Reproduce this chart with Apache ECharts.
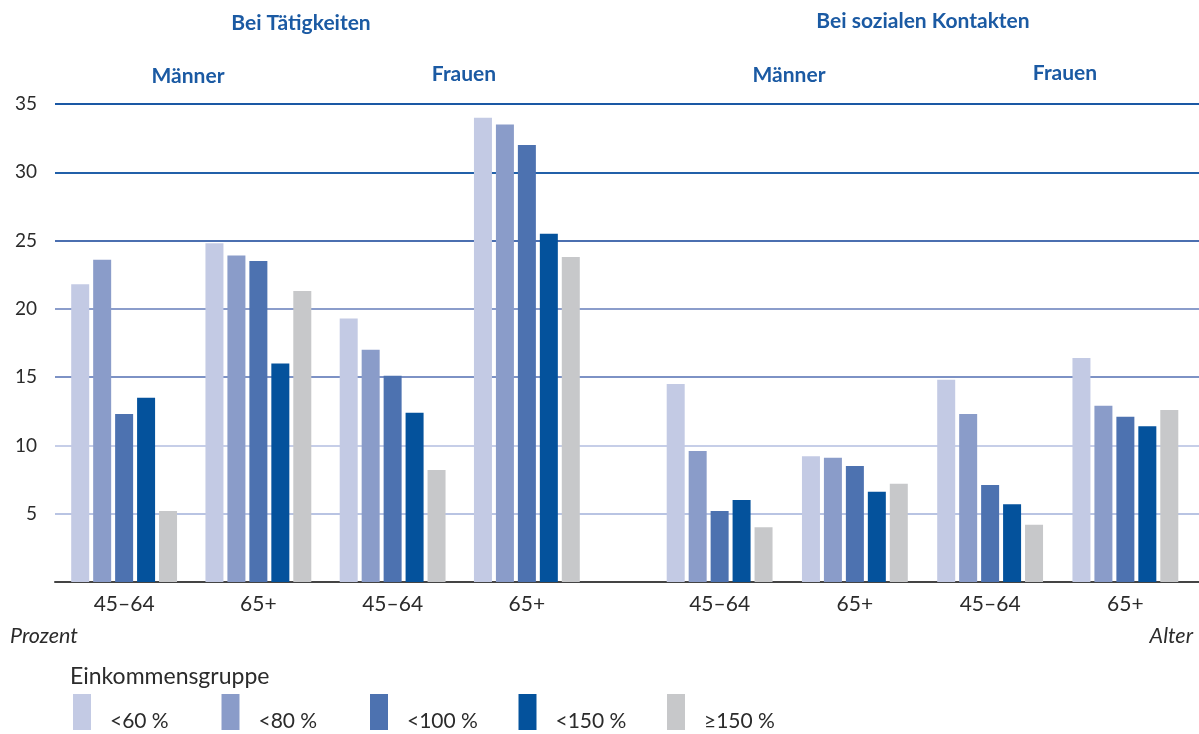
<!DOCTYPE html>
<html>
<head>
<meta charset="utf-8">
<script src="https://cdn.jsdelivr.net/npm/echarts@6/dist/echarts.min.js"></script>
<style>
html,body{margin:0;padding:0;background:#fff;}
#chart{width:1199px;height:734px;}
</style>
</head>
<body>
<div id="chart"></div>
<script>
const categoriesLeft = ['45–64', '65+', '45–64', '65+'];
const categoriesRight = ['45–64', '65+', '45–64', '65+'];
const groupNames = ['<60\u202F%', '<80\u202F%', '<100\u202F%', '<150\u202F%', '≥150\u202F%'];
const yTicks = [0, 5, 10, 15, 20, 25, 30, 35];

// Bei Tätigkeiten: Männer 45–64, Männer 65+, Frauen 45–64, Frauen 65+
const taetLt60 = [21.8, 24.8, 19.3, 34.0];
const taetLt80 = [23.6, 23.9, 17.0, 33.5];
const taetLt100 = [12.3, 23.5, 15.1, 32.0];
const taetLt150 = [13.5, 16.0, 12.4, 25.5];
const taetGe150 = [5.2, 21.3, 8.2, 23.8];

// Bei sozialen Kontakten: Männer 45–64, Männer 65+, Frauen 45–64, Frauen 65+
const sozLt60 = [14.5, 9.2, 14.8, 16.4];
const sozLt80 = [9.6, 9.1, 12.3, 12.9];
const sozLt100 = [5.2, 8.5, 7.1, 12.1];
const sozLt150 = [6.0, 6.6, 5.7, 11.4];
const sozGe150 = [4.0, 7.2, 4.2, 12.6];

const colors = ['#c3cae4', '#8a9cc9', '#4d72b0', '#04529c', '#c7c8ca'];
const gridColors = ['#444444', '#b9c4e3', '#c6cee8', '#7d92c5', '#8b9dcb', '#4b6fb0', '#2160a9', '#1a58a4'];
const leftData = [taetLt60, taetLt80, taetLt100, taetLt150, taetGe150];
const rightData = [sozLt60, sozLt80, sozLt100, sozLt150, sozGe150];

const FONT = 'Lato';
const BLUE = '#1b5aa3';
const TXT = '#2b2b2b';

const series = [];
groupNames.forEach((n, i) => {
  series.push({
    name: n, type: 'bar', xAxisIndex: 1, yAxisIndex: 1,
    data: leftData[i], barWidth: 18, barGap: '22%',
    itemStyle: { color: colors[i] }, z: 3
  });
});
groupNames.forEach((n, i) => {
  series.push({
    name: n, type: 'bar', xAxisIndex: 2, yAxisIndex: 2,
    data: rightData[i], barWidth: 18, barGap: '22%',
    itemStyle: { color: colors[i] }, z: 3
  });
});

const legends = groupNames.map((n, i) => ({
  data: [n], left: 73 + i * 148.5, top: 694, padding: 0,
  itemWidth: 18, itemHeight: 36, icon: 'rect',
  formatter: '{a|{name}}',
  textStyle: { fontFamily: FONT, fontSize: 21, color: TXT, padding: [0, 0, 0, 14],
    rich: { a: { fontFamily: FONT, fontSize: 21, color: TXT, padding: [18, 0, 0, 0] } } }
}));

const chart = echarts.init(document.getElementById('chart'), null, { renderer: 'canvas' });
const xLabel = { fontFamily: FONT, fontSize: 21, color: TXT, margin: 12 };
const head = (text, x, y) => ({ type: 'text', x: x, y: y,
  style: { text: text, fontFamily: FONT, fontWeight: 'bold', fontSize: 21, fill: BLUE, align: 'center', verticalAlign: 'middle' } });
chart.setOption({
  animation: false,
  textStyle: { fontFamily: FONT },
  grid: [
    { left: 55, right: 0, top: 104, bottom: 152 },
    { left: 57, right: 605, top: 104, bottom: 152 },
    { left: 652, right: 6, top: 104, bottom: 152 }
  ],
  xAxis: [
    { gridIndex: 0, type: 'value', min: 0, max: 1, axisLine: { show: true, onZero: false, lineStyle: { color: '#444', width: 2 } },
      axisTick: { show: false }, axisLabel: { show: false }, splitLine: { show: false } },
    { gridIndex: 1, type: 'category', data: categoriesLeft, axisLine: { show: false }, axisTick: { show: false }, axisLabel: xLabel },
    { gridIndex: 2, type: 'category', data: categoriesRight, axisLine: { show: false }, axisTick: { show: false }, axisLabel: xLabel }
  ],
  yAxis: [
    { gridIndex: 0, type: 'value', min: yTicks[0], max: yTicks[yTicks.length - 1], interval: 5,
      axisLine: { show: false }, axisTick: { show: false },
      axisLabel: { fontFamily: FONT, fontSize: 19, color: TXT, margin: 18, padding: [0, 0, 5, 0],
        formatter: v => (v === 0 ? '' : String(v)) },
      splitLine: { show: true, lineStyle: { color: gridColors, width: 2 } } },
    { gridIndex: 1, type: 'value', min: 0, max: 35, show: false, splitLine: { show: false } },
    { gridIndex: 2, type: 'value', min: 0, max: 35, show: false, splitLine: { show: false } }
  ],
  legend: legends,
  graphic: [
    head('Bei Tätigkeiten', 301, 23),
    head('Bei sozialen Kontakten', 923, 21),
    head('Männer', 188, 76),
    head('Frauen', 464, 74),
    head('Männer', 789, 75),
    head('Frauen', 1065, 73),
    { type: 'text', x: 10, y: 636, style: { text: 'Prozent', fontFamily: FONT, fontStyle: 'italic', fontSize: 21.5, fill: TXT, align: 'left', verticalAlign: 'middle' } },
    { type: 'text', x: 1193, y: 636, style: { text: 'Alter', fontFamily: FONT, fontStyle: 'italic', fontSize: 21.5, fill: TXT, align: 'right', verticalAlign: 'middle' } },
    { type: 'text', x: 70, y: 677, style: { text: 'Einkommensgruppe', fontFamily: FONT, fontSize: 23, fill: TXT, align: 'left', verticalAlign: 'middle' } }
  ],
  series: series
});
</script>
</body>
</html>
